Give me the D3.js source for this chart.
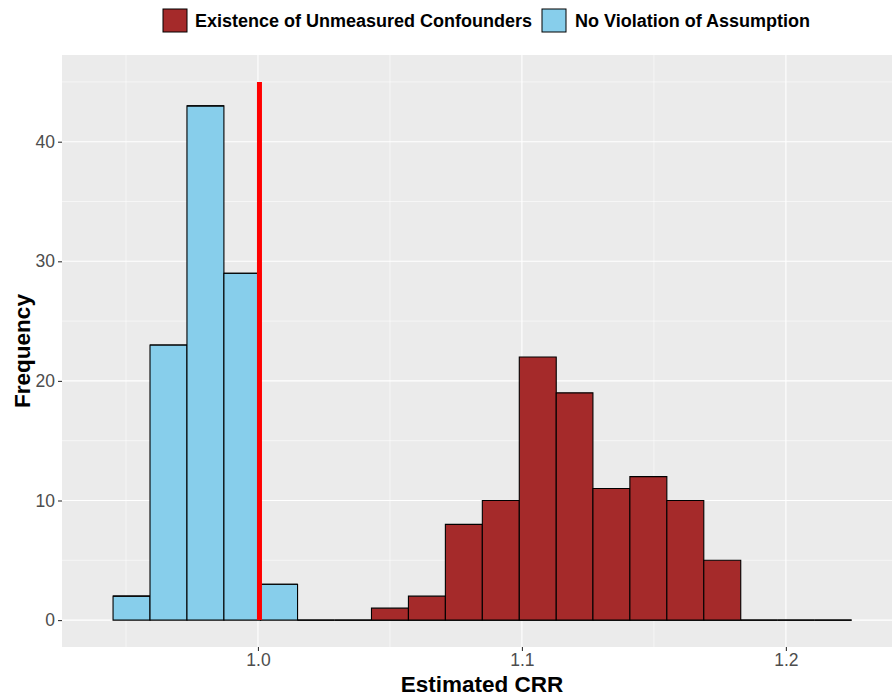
<!DOCTYPE html>
<html>
<head>
<meta charset="utf-8">
<script src="https://cdn.jsdelivr.net/npm/d3@7"></script>
<style>
  body { margin: 0; background: #fff; }
  svg { display: block; font-family: "Liberation Sans", Arial, sans-serif; }
</style>
</head>
<body>
<div id="chart"></div>
<script>
// bin edges of the histogram (Estimated CRR)
const binEdges = [0.9451, 0.9591, 0.9731, 0.9871, 1.0010, 1.0150, 1.0290, 1.0430, 1.0570, 1.0710,
                  1.0850, 1.0990, 1.1130, 1.1269, 1.1409, 1.1549, 1.1689, 1.1829, 1.1969, 1.2109, 1.2249];
const groups = ['Existence of Unmeasured Confounders', 'No Violation of Assumption'];
const confounderCounts = [0, 0, 0, 0, 0, 0, 0, 1, 2, 8, 10, 22, 19, 11, 12, 10, 5, 0, 0, 0];
const noViolationCounts = [2, 23, 43, 29, 3, 0, 0, 0, 0, 0, 0, 0, 0, 0, 0, 0, 0, 0, 0, 0];
const xTicks = [1.0, 1.1, 1.2];
const xMinor = [0.95, 1.05, 1.15];
const yTicks = [0, 10, 20, 30, 40];
const yMinor = [5, 15, 25, 35, 45];
const refLine = {x: 1.0, top: 45};

const colors = {'Existence of Unmeasured Confounders': '#A52A2A', 'No Violation of Assumption': '#87CEEB'};

const W = 892, H = 697;
const panel = {left: 62, right: 892, top: 55, bottom: 647};

const svg = d3.select('#chart').append('svg')
    .attr('width', W)
    .attr('height', H);

const x = d3.scaleLinear().domain([0.92576, 1.2402]).range([panel.left, panel.right]);
const y = d3.scaleLinear().domain([-2.25, 47.25]).range([panel.bottom, panel.top]);

// panel background
svg.append('rect')
    .attr('x', panel.left).attr('y', panel.top)
    .attr('width', panel.right - panel.left).attr('height', panel.bottom - panel.top)
    .attr('fill', '#EBEBEB');

// grid lines
const grid = svg.append('g');
grid.selectAll('.xminor').data(xMinor).enter().append('line')
    .attr('x1', d => x(d)).attr('x2', d => x(d))
    .attr('y1', panel.top).attr('y2', panel.bottom)
    .attr('stroke', '#fff').attr('stroke-width', 0.55);
grid.selectAll('.yminor').data(yMinor).enter().append('line')
    .attr('y1', d => y(d)).attr('y2', d => y(d))
    .attr('x1', panel.left).attr('x2', panel.right)
    .attr('stroke', '#fff').attr('stroke-width', 0.55);
grid.selectAll('.xmajor').data(xTicks).enter().append('line')
    .attr('x1', d => x(d)).attr('x2', d => x(d))
    .attr('y1', panel.top).attr('y2', panel.bottom)
    .attr('stroke', '#fff').attr('stroke-width', 1.1);
grid.selectAll('.ymajor').data(yTicks).enter().append('line')
    .attr('y1', d => y(d)).attr('y2', d => y(d))
    .attr('x1', panel.left).attr('x2', panel.right)
    .attr('stroke', '#fff').attr('stroke-width', 1.1);

// stacked histogram bars (drawn as paths so empty bins still show their outline)
const bins = confounderCounts.map((c, i) => ({
    x0: binEdges[i], x1: binEdges[i + 1],
    'Existence of Unmeasured Confounders': c,
    'No Violation of Assumption': noViolationCounts[i]
}));
const stack = d3.stack().keys(groups.slice().reverse());
const series = stack(bins);

function barPath(d) {
    const p = d3.path();
    p.moveTo(x(d.data.x0), y(d[1]));
    p.lineTo(x(d.data.x1), y(d[1]));
    p.lineTo(x(d.data.x1), y(d[0]));
    p.lineTo(x(d.data.x0), y(d[0]));
    p.closePath();
    return p.toString();
}

svg.append('g').selectAll('g')
    .data(series).enter().append('g')
    .attr('fill', d => colors[d.key])
    .selectAll('path')
    .data(d => d).enter().append('path')
    .attr('d', barPath)
    .attr('stroke', '#000')
    .attr('stroke-width', 1.1);

// reference line at CRR = 1
svg.append('line')
    .attr('x1', x(refLine.x) + 1.5).attr('x2', x(refLine.x) + 1.5)
    .attr('y1', y(0)).attr('y2', y(refLine.top))
    .attr('stroke', '#FF0000').attr('stroke-width', 5);

// axes
const xAxis = svg.append('g')
    .attr('transform', `translate(0,${panel.bottom})`)
    .call(d3.axisBottom(x).tickValues(xTicks).tickFormat(d3.format('.1f')).tickSize(4).tickPadding(3));
const yAxis = svg.append('g')
    .attr('transform', `translate(${panel.left},0)`)
    .call(d3.axisLeft(y).tickValues(yTicks).tickSize(4).tickPadding(3));

[xAxis, yAxis].forEach(a => {
    a.select('.domain').remove();
    a.selectAll('.tick line').attr('stroke', '#333').attr('stroke-width', 1.1);
    a.selectAll('.tick text')
        .attr('fill', '#4D4D4D')
        .style('font-size', '17.5px')
        .style('font-family', '"Liberation Sans", Arial, sans-serif');
});

// axis titles
svg.append('text')
    .attr('x', 482)
    .attr('y', 692)
    .attr('text-anchor', 'middle')
    .style('font-size', '22.5px').style('font-weight', 'bold')
    .text('Estimated CRR');

svg.append('text')
    .attr('transform', `translate(30,${(panel.top + panel.bottom) / 2}) rotate(-90)`)
    .attr('text-anchor', 'middle')
    .style('font-size', '22.5px').style('font-weight', 'bold')
    .text('Frequency');

// legend
const legend = svg.append('g');
const legendItems = [
    {key: groups[0], boxX: 163, textX: 195},
    {key: groups[1], boxX: 542, textX: 575}
];
legendItems.forEach(it => {
    legend.append('rect')
        .attr('x', it.boxX).attr('y', 9)
        .attr('width', 24).attr('height', 23)
        .attr('fill', colors[it.key])
        .attr('stroke', '#000').attr('stroke-width', 1);
    legend.append('text')
        .attr('x', it.textX).attr('y', 27)
        .style('font-size', '18px').style('font-weight', 'bold')
        .text(it.key);
});
</script>
</body>
</html>
